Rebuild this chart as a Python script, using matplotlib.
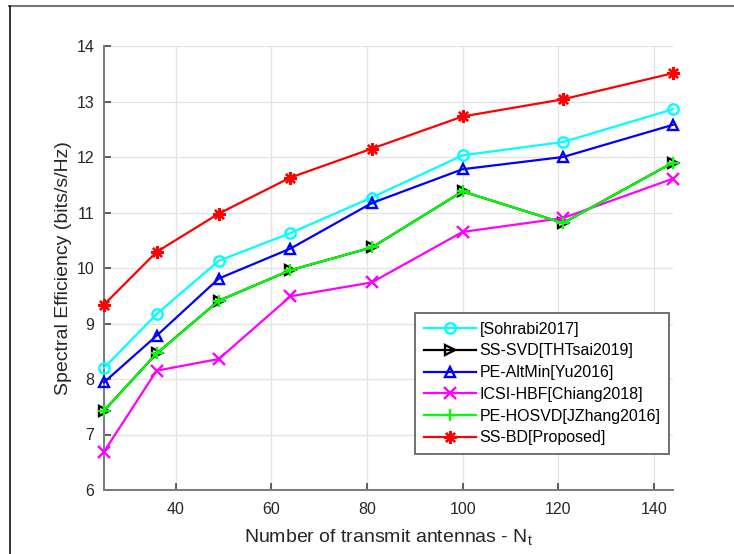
import matplotlib
matplotlib.use("Agg")
import matplotlib.pyplot as plt
from matplotlib.lines import Line2D

# ---- data ----
n_t = [25, 36, 49, 64, 81, 100, 121, 144]
sohrabi = [8.20, 9.17, 10.13, 10.63, 11.27, 12.03, 12.27, 12.86]
ss_svd = [7.43, 8.46, 9.41, 9.96, 10.37, 11.38, 10.81, 11.90]
pe_altmin = [7.94, 8.78, 9.81, 10.35, 11.17, 11.78, 12.00, 12.58]
icsi_hbf = [6.69, 8.15, 8.36, 9.49, 9.74, 10.65, 10.90, 11.61]
pe_hosvd = [7.43, 8.46, 9.41, 9.96, 10.37, 11.38, 10.81, 11.90]
ss_bd = [9.34, 10.29, 10.98, 11.63, 12.15, 12.73, 13.04, 13.51]
labels = ["[Sohrabi2017]", "SS-SVD[THTsai2019]", "PE-AltMin[Yu2016]",
          "ICSI-HBF[Chiang2018]", "PE-HOSVD[JZhang2016]", "SS-BD[Proposed]"]
xticks = [40, 60, 80, 100, 120, 140]
yticks = [6, 7, 8, 9, 10, 11, 12, 13, 14]

REG = ["Liberation Sans", "DejaVu Sans"]
plt.rcParams["font.family"] = REG
plt.rcParams["mathtext.fontset"] = "custom"
plt.rcParams["mathtext.rm"] = "Liberation Sans"
plt.rcParams["mathtext.it"] = "Liberation Sans"

W, H = 734, 554
fig = plt.figure(figsize=(W / 100, H / 100), dpi=100)
ax = fig.add_axes([104 / W, 1 - 490 / H, 569 / W, 444 / H])

series = [
    (sohrabi, "#00ffff", "o"),
    (ss_svd, "#000000", ">"),
    (pe_altmin, "#0000ff", "^"),
    (icsi_hbf, "#ff00ff", "x"),
    (pe_hosvd, "#00ff00", "+"),
    (ss_bd, "#ff0000", (8, 2, 0)),
]
for (vals, col, mk), lab in zip(series, labels):
    ms = 9 if mk in ("+", (8, 2, 0), "x") else 7.5
    ax.plot(n_t, vals, color=col, lw=1.6, marker=mk, ms=ms, mfc="none",
            mec=col, mew=1.7, label=lab, clip_on=False, zorder=3)

ax.set_xlim(25, 144)
ax.set_ylim(6, 14)
ax.set_xticks(xticks)
ax.set_yticks(yticks)
ax.grid(True, color="#e3e3e3", lw=0.9)
ax.set_axisbelow(True)
for s in ("top", "right"):
    ax.spines[s].set_visible(False)
for s in ("left", "bottom"):
    ax.spines[s].set_color("#7a7a7a")
    ax.spines[s].set_linewidth(1.4)
ax.tick_params(direction="in", length=5, width=1.2, color="#444444",
               labelsize=11.5, labelcolor="#262626", pad=7)
ax.tick_params(axis="x", pad=9)

ax.set_xlabel(r"Number of transmit antennas - N$_{\mathrm{t}}$", fontsize=14,
              color="#262626", labelpad=7)
ax.set_ylabel("Spectral Efficiency (bits/s/Hz)", fontsize=14,
              color="#262626", labelpad=3)

leg = ax.legend(loc="upper left", bbox_to_anchor=(415 / W, 1 - 313 / H),
                bbox_transform=fig.transFigure, borderaxespad=0,
                fontsize=11.5, handlelength=3.3, handletextpad=0.2,
                labelspacing=0.42, borderpad=0.55, fancybox=False,
                framealpha=1, edgecolor="#707070")
leg.get_frame().set_linewidth(1.4)

# outer frame lines of the figure image
fig.add_artist(Line2D([9 / W, 1], [1 - 5.5 / H, 1 - 5.5 / H],
                      transform=fig.transFigure, color="#777777", lw=1.5))
fig.add_artist(Line2D([9.5 / W, 9.5 / W], [0, 1 - 5.5 / H],
                      transform=fig.transFigure, color="#111111", lw=1.2))

fig.savefig("out.png", dpi=100)
